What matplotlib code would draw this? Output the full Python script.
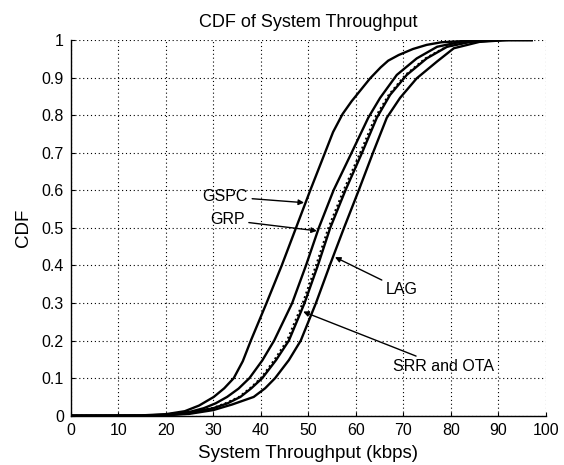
import matplotlib
matplotlib.use("Agg")
import matplotlib.pyplot as plt

# throughput (kbps) and CDF value for each curve
gspc_x = [0, 15, 20, 24, 27, 30.1, 32.3, 34.3, 36.2, 37.9, 41.2, 44.4, 47.4, 50.4, 53.5, 55.2, 57.2, 59.1, 63.0, 65.2, 66.8, 69.0, 72.0, 74.9, 78, 84, 90, 97]
gspc_y = [0, 0.001, 0.004, 0.012, 0.027, 0.05, 0.073, 0.1, 0.145, 0.2, 0.3, 0.4, 0.5, 0.6, 0.7, 0.755, 0.803, 0.837, 0.898, 0.927, 0.945, 0.96, 0.976, 0.987, 0.994, 0.998, 1.0, 1.0]

grp_x = [0, 15, 20, 25, 28, 30.5, 32.9, 35.3, 37.6, 40.3, 42.8, 46.6, 49.5, 52.2, 55.3, 59.1, 62.6, 65.1, 68.6, 72.8, 77.1, 82, 90, 97]
grp_y = [0, 0.0, 0.003, 0.01, 0.02, 0.033, 0.05, 0.072, 0.1, 0.147, 0.2, 0.3, 0.4, 0.5, 0.6, 0.7, 0.793, 0.846, 0.907, 0.951, 0.982, 0.995, 1.0, 1.0]

srr_x = [0, 15, 20, 25, 30, 33.0, 35.7, 38.0, 40.3, 43.2, 45.9, 49.2, 52.0, 54.6, 57.8, 61.3, 64.4, 67.2, 70.7, 74.9, 79.2, 84, 91, 97]
srr_y = [0, 0.0, 0.002, 0.007, 0.02, 0.033, 0.05, 0.073, 0.1, 0.148, 0.2, 0.3, 0.4, 0.5, 0.6, 0.7, 0.793, 0.854, 0.907, 0.951, 0.982, 0.995, 1.0, 1.0]

ota_x = [0, 15, 20, 25, 30, 32.7, 35.4, 37.7, 40.0, 42.8, 45.5, 48.8, 51.6, 54.2, 57.4, 60.9, 64.0, 66.9, 70.4, 74.6, 79.0, 84, 91, 97]
ota_y = [0, 0.0, 0.002, 0.008, 0.021, 0.034, 0.05, 0.073, 0.1, 0.148, 0.2, 0.3, 0.4, 0.5, 0.6, 0.7, 0.793, 0.854, 0.907, 0.951, 0.982, 0.995, 1.0, 1.0]

lag_x = [0, 15, 20, 25, 30, 34, 38.5, 40.9, 43.0, 45.9, 48.4, 51.6, 54.5, 57.5, 60.6, 63.6, 66.5, 69.3, 72.8, 77.1, 80.6, 86, 92, 97]
lag_y = [0, 0.0, 0.001, 0.005, 0.015, 0.03, 0.05, 0.073, 0.1, 0.148, 0.2, 0.3, 0.4, 0.5, 0.6, 0.7, 0.793, 0.846, 0.898, 0.943, 0.978, 0.995, 1.0, 1.0]

x_ticks = list(range(0, 101, 10))
y_ticks = [0, 0.1, 0.2, 0.3, 0.4, 0.5, 0.6, 0.7, 0.8, 0.9, 1]
y_tick_labels = ["0", "0.1", "0.2", "0.3", "0.4", "0.5", "0.6", "0.7", "0.8", "0.9", "1"]

# annotation label, text position, arrow tip (data coords)
labels = ["GSPC", "GRP", "LAG", "SRR and OTA"]
label_xy = [(37.3, 0.583), (36.6, 0.521), (66.3, 0.335), (67.8, 0.13)]
tip_xy = [(49.1, 0.567), (51.8, 0.492), (55.6, 0.422), (48.9, 0.277)]
label_ha = ["right", "right", "left", "left"]

plt.rcParams["font.family"] = ["Liberation Sans", "DejaVu Sans"]

fig = plt.figure(figsize=(5.64, 4.65), dpi=100)
ax = fig.add_axes([0.1254, 0.106, 0.8427, 0.808])

ax.plot(gspc_x, gspc_y, color="black", lw=1.7)
ax.plot(grp_x, grp_y, color="black", lw=1.7)
ax.plot(srr_x, srr_y, color="black", lw=1.7)
ax.plot(ota_x, ota_y, color="black", lw=1.4, linestyle=(0, (1, 1.5)))
ax.plot(lag_x, lag_y, color="black", lw=1.7)

for text, xy, tip, ha in zip(labels, label_xy, tip_xy, label_ha):
    ax.annotate(
        text, xy=tip, xytext=xy, ha=ha, va="center", fontsize=11.5,
        arrowprops=dict(arrowstyle="-|>", color="black", lw=1.0, mutation_scale=8, shrinkA=1, shrinkB=0)
    )

ax.set_xlim(0, 100)
ax.set_ylim(0, 1)
ax.set_xticks(x_ticks)
ax.set_yticks(y_ticks)
ax.set_yticklabels(y_tick_labels)
ax.tick_params(direction="in", length=3, width=0.8, labelsize=11.5, pad=5)
ax.grid(True, linestyle=(0, (1, 2.5)), color="black", linewidth=0.8)
ax.set_axisbelow(True)
ax.spines["top"].set_visible(False)
ax.spines["right"].set_visible(False)
ax.spines["left"].set_linewidth(1.0)
ax.spines["bottom"].set_linewidth(1.0)

ax.set_title("CDF of System Throughput", fontsize=13, pad=9)
ax.set_xlabel("System Throughput (kbps)", fontsize=13.5, labelpad=5)
ax.set_ylabel("CDF", fontsize=13.5, labelpad=7)

fig.savefig("out.png", dpi=100)
